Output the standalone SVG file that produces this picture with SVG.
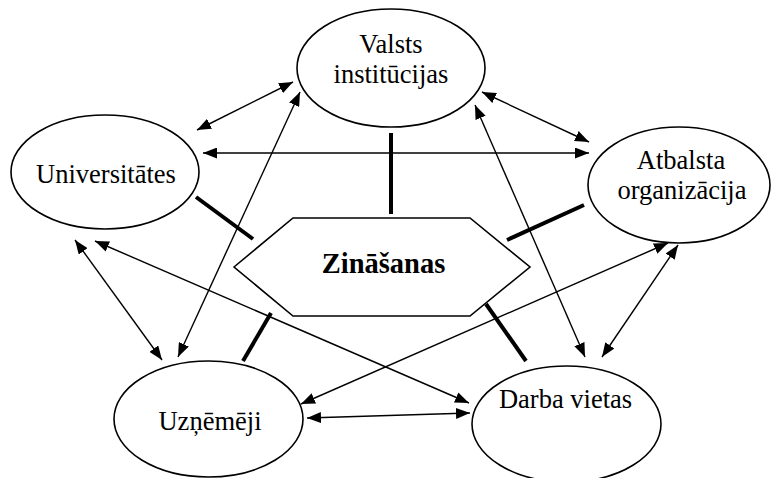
<svg xmlns="http://www.w3.org/2000/svg" width="771" height="478" viewBox="0 0 771 478">
<style>
.node{fill:#fff;stroke:#000;stroke-width:1.6}
.lbl{font-family:"Liberation Serif","Times New Roman",serif;font-size:26.5px;fill:#000;text-anchor:middle}
.bold{font-weight:bold;font-size:28.5px}
.arr{stroke:#000;stroke-width:1.4;fill:none;marker-start:url(#ah);marker-end:url(#ah)}
.thick{stroke:#000;stroke-width:4;fill:none}
</style>
<defs>
<marker id="ah" viewBox="0 0 14 11" refX="14" refY="5.5" markerWidth="14" markerHeight="11" markerUnits="userSpaceOnUse" orient="auto-start-reverse">
<path d="M0,0 L14,5.5 L0,11 z" fill="#000"/>
</marker>
</defs>
<rect width="771" height="478" fill="#fff"/>
<g id="connectors">
<line class="arr" x1="197" y1="130" x2="293" y2="82"/>
<line class="arr" x1="203" y1="153" x2="589" y2="153"/>
<line class="arr" x1="482" y1="92" x2="589" y2="142"/>
<line class="arr" x1="300" y1="92" x2="178" y2="357"/>
<line class="arr" x1="75" y1="240" x2="162" y2="360"/>
<line class="arr" x1="95" y1="241" x2="469" y2="403"/>
<line class="arr" x1="475" y1="105" x2="585" y2="357"/>
<line class="arr" x1="668" y1="243" x2="301" y2="404"/>
<line class="arr" x1="678" y1="245" x2="602" y2="357"/>
<line class="arr" x1="307" y1="418" x2="470" y2="413"/>
<line class="thick" x1="391" y1="133" x2="391" y2="214"/>
<line class="thick" x1="196" y1="197" x2="253" y2="239"/>
<line class="thick" x1="584" y1="205" x2="507" y2="240"/>
<line class="thick" x1="243" y1="361" x2="271" y2="313"/>
<line class="thick" x1="526" y1="361" x2="486" y2="304"/>
</g>
<g id="valsts">
<ellipse class="node" cx="391" cy="68" rx="94" ry="59"/>
<text class="lbl" x="391" y="53">Valsts</text>
<text class="lbl" x="391" y="83">institūcijas</text>
</g>
<g id="universitates">
<ellipse class="node" cx="105" cy="172" rx="94" ry="57"/>
<text class="lbl" x="106" y="183">Universitātes</text>
</g>
<g id="atbalsta">
<ellipse class="node" cx="679" cy="185" rx="91" ry="58"/>
<text class="lbl" x="681" y="169">Atbalsta</text>
<text class="lbl" x="682" y="199">organizācija</text>
</g>
<g id="uznemeji">
<ellipse class="node" cx="208.5" cy="419" rx="94.5" ry="58"/>
<text class="lbl" x="210" y="430">Uzņēmēji</text>
</g>
<g id="darba">
<ellipse class="node" cx="566.5" cy="424" rx="94.5" ry="58"/>
<text class="lbl" x="565.5" y="408">Darba vietas</text>
</g>
<g id="zinasanas">
<polygon class="node" points="234,267 293,218 470,218 530,267 470,316 293,316"/>
<text class="lbl bold" x="383.5" y="273">Zināšanas</text>
</g>
</svg>
